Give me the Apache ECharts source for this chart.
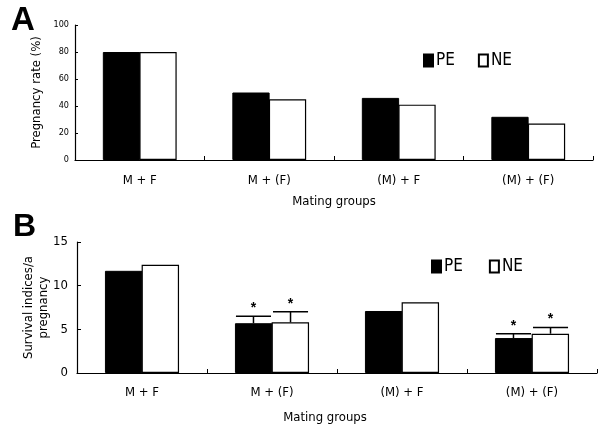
<!DOCTYPE html>
<html><head><meta charset="utf-8">
<script src="https://cdn.jsdelivr.net/npm/echarts@6/dist/echarts.min.js"></script>
<style>html,body{margin:0;padding:0;background:#fff}#c{width:598px;height:425px}</style>
</head><body><div id="c"></div>
<script>
const categories = ['M + F', 'M + (F)', '(M) + F', '(M) + (F)'];
const rateTicks = [0, 20, 40, 60, 80, 100];
const ratePE = [80, 50, 46, 32];
const rateNE = [80, 45, 41, 27];
const survTicks = [0, 5, 10, 15];
const survPE = [11.7, 5.7, 7.1, 4.0];
const survNE = [12.4, 5.8, 8.1, 4.5];
const survPEerr = [null, 6.5, null, 4.5];
const survNEerr = [null, 7.0, null, 5.2];
const starPE = [false, true, false, true];
const starNE = [false, true, false, true];

const FONT = '"Liberation Sans Narrow", "DejaVu Sans Condensed", Arial, sans-serif';
const chart = echarts.init(document.getElementById('c'), null, {renderer: 'canvas'});
const GAP = '43%';
const BGAP = '-2%';

function errSeries(vals, tops, stars, side, xi, yi) {
  const data = vals.map((v, i) => [i, v, tops[i], stars[i] ? 1 : 0]);
  return {
    type: 'custom', xAxisIndex: xi, yAxisIndex: yi, z: 5,
    data: data,
    renderItem: function (params, api) {
      const top = api.value(2);
      if (top == null || isNaN(top)) return;
      const band = api.size([1, 0])[0];
      const bw = band * (1 - 0.43) / 2;
      const c = api.coord([api.value(0), api.value(1)]);
      const t = api.coord([api.value(0), top]);
      const cx = c[0] + side * bw / 2;
      const children = [
        {type: 'line', shape: {x1: cx, y1: c[1], x2: cx, y2: t[1]}, style: {stroke: '#000', lineWidth: 1.5}},
        {type: 'line', shape: {x1: cx - bw / 2 + 1, y1: t[1], x2: cx + bw / 2 - 1, y2: t[1]}, style: {stroke: '#000', lineWidth: 1.5}}
      ];
      if (api.value(3)) {
        children.push({type: 'text', style: {text: '*', x: cx, y: t[1] - 1, align: 'center', verticalAlign: 'bottom', fontSize: 14, fontWeight: 'bold', fontFamily: 'Arial, sans-serif', fill: '#000'}});
      }
      return {type: 'group', children: children};
    }
  };
}

const axisLine = {show: true, lineStyle: {color: '#000', width: 1.2}};
const option = {
  animation: false,
  backgroundColor: '#fff',
  textStyle: {fontFamily: FONT, color: '#000'},
  grid: [
    {left: 75, right: 5, top: 25, height: 135},
    {left: 77, right: 1, top: 242, height: 131}
  ],
  legend: [
    {data: ['PE', 'NE'], left: 418, top: 47, icon: 'rect', itemWidth: 9, itemHeight: 12, itemGap: 23,
     textStyle: {fontFamily: FONT, fontSize: 17, color: '#000', padding: [0, 0, 0, -2]}},
    {data: ['PE', 'NE'], left: 426, top: 253, icon: 'rect', itemWidth: 9, itemHeight: 12, itemGap: 26,
     textStyle: {fontFamily: FONT, fontSize: 17, color: '#000', padding: [0, 0, 0, -2]}}
  ],
  xAxis: [
    {type: 'category', gridIndex: 0, data: categories, axisLine: axisLine,
     axisTick: {show: true, inside: true, length: 4, lineStyle: {color: '#000'}},
     axisLabel: {color: '#000', fontFamily: FONT, fontSize: 13, margin: 14},
     name: 'Mating groups', nameLocation: 'middle', nameGap: 35,
     nameTextStyle: {color: '#000', fontFamily: FONT, fontSize: 13}},
    {type: 'category', gridIndex: 1, data: categories, axisLine: axisLine,
     axisTick: {show: true, inside: true, length: 4, lineStyle: {color: '#000'}},
     axisLabel: {color: '#000', fontFamily: FONT, fontSize: 13, margin: 13},
     name: 'Mating groups', nameLocation: 'middle', nameGap: 38, nameTextStyle: {color: '#000', fontFamily: FONT, fontSize: 13, padding: [0, 24, 0, 0]}}
  ],
  yAxis: [
    {type: 'value', gridIndex: 0, min: 0, max: 100, interval: 20, axisLine: axisLine,
     axisTick: {show: true, inside: true, length: 3, lineStyle: {color: '#000'}},
     splitLine: {show: false},
     axisLabel: {color: '#000', fontFamily: FONT, fontSize: 9, margin: 6,
       formatter: v => rateTicks.includes(v) ? String(v) : ''},
     name: 'Pregnancy rate (%)', nameLocation: 'middle', nameGap: 31,
     nameTextStyle: {color: '#000', fontFamily: FONT, fontSize: 13}},
    {type: 'value', gridIndex: 1, min: 0, max: 15, interval: 5, axisLine: axisLine,
     axisTick: {show: true, inside: true, length: 4, lineStyle: {color: '#000'}},
     splitLine: {show: false},
     axisLabel: {color: '#000', fontFamily: FONT, fontSize: 13, margin: 9,
       formatter: v => survTicks.includes(v) ? String(v) : ''},
     name: 'Survival indices/a\npregnancy', nameLocation: 'middle', nameGap: 26, nameMoveOverlap: false,
     nameTextStyle: {color: '#000', fontFamily: FONT, fontSize: 13, lineHeight: 15}}
  ],
  graphic: [
    {type: 'text', left: 11, top: 4, style: {text: 'A', fontSize: 33, fontWeight: 'bold', fontFamily: 'Liberation Sans, Arial, sans-serif', fill: '#000'}},
    {type: 'text', left: 13, top: 211, style: {text: 'B', fontSize: 32, fontWeight: 'bold', fontFamily: 'Liberation Sans, Arial, sans-serif', fill: '#000'}}
  ],
  series: [
    {name: 'PE', type: 'bar', xAxisIndex: 0, yAxisIndex: 0, data: ratePE, barGap: BGAP, barCategoryGap: GAP,
     itemStyle: {color: '#000', borderColor: '#000', borderWidth: 1}},
    {name: 'NE', type: 'bar', xAxisIndex: 0, yAxisIndex: 0, data: rateNE, barGap: BGAP, barCategoryGap: GAP,
     itemStyle: {color: '#fff', borderColor: '#000', borderWidth: 1.2}},
    {name: 'PE', type: 'bar', xAxisIndex: 1, yAxisIndex: 1, data: survPE, barGap: BGAP, barCategoryGap: GAP,
     itemStyle: {color: '#000', borderColor: '#000', borderWidth: 1}},
    {name: 'NE', type: 'bar', xAxisIndex: 1, yAxisIndex: 1, data: survNE, barGap: BGAP, barCategoryGap: GAP,
     itemStyle: {color: '#fff', borderColor: '#000', borderWidth: 1.2}},
    errSeries(survPE, survPEerr, starPE, -1, 1, 1),
    errSeries(survNE, survNEerr, starNE, 1, 1, 1)
  ]
};
chart.setOption(option);
</script></body></html>
